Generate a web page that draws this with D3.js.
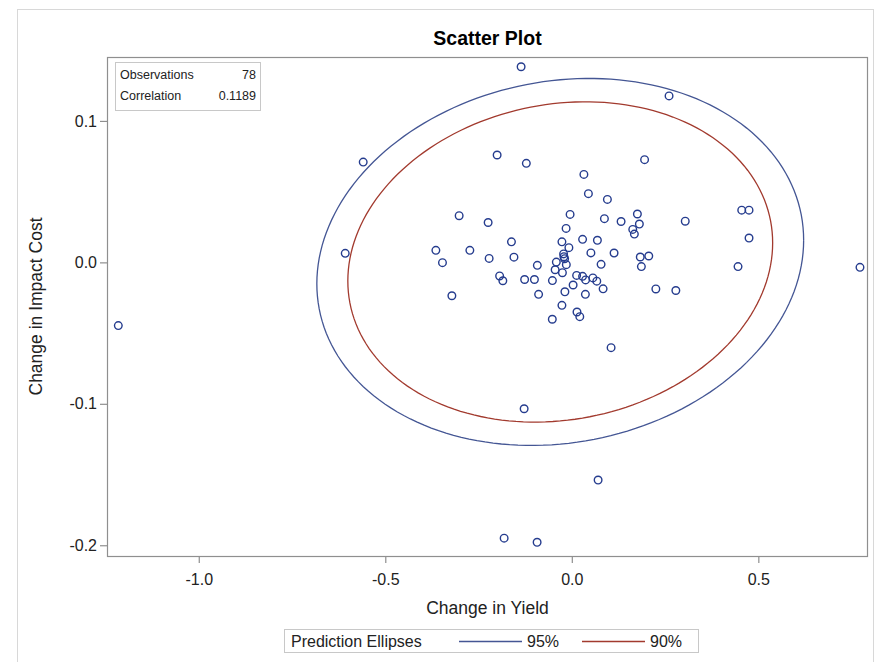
<!DOCTYPE html>
<html>
<head>
<meta charset="utf-8">
<script src="https://cdn.jsdelivr.net/npm/d3@7"></script>
<style>
  html, body { margin: 0; padding: 0; background: #fff; }
  svg { display: block; font-family: "Liberation Sans", Arial, sans-serif; }
</style>
</head>
<body>
<svg id="chart" width="874" height="662"></svg>
<script>
// ---- data ----
const changeInYield = [
  -1.2157, -0.6074, -0.5592, -0.3644, -0.3467, -0.3215, -0.3020, -0.2733, -0.2243, -0.2216,
  -0.2002, -0.1935, -0.1849, -0.1618, -0.1551, -0.1359, -0.1265, -0.1278, -0.1219, -0.1002,
  -0.0924, -0.0890, -0.0930, -0.1814, -0.0523, -0.0520, -0.0447, -0.0415, -0.0265, -0.0252,
  -0.0265, -0.0212, -0.0193, -0.0185, -0.0153, -0.0147, -0.0078, -0.0046, 0.0035, 0.0129,
  0.0139, 0.0214, 0.0289, 0.0289, 0.0324, 0.0370, 0.0364, 0.0445, 0.0512, 0.0565,
  0.0670, 0.0686, 0.0705, 0.0785, 0.0839, 0.0874, 0.0954, 0.1053, 0.1133, 0.1321,
  0.1634, 0.1677, 0.1758, 0.1811, 0.1835, 0.1865, 0.1951, 0.2063, 0.2253, 0.2607,
  0.2789, 0.3041, 0.4456, 0.4555, 0.4751, 0.4751, 0.7725, -0.0220
];
const changeInImpactCost = [
  -0.0447, 0.0064, 0.0709, 0.0085, -0.0002, -0.0236, 0.0330, 0.0085, 0.0282, 0.0028,
  0.0759, -0.0096, -0.0130, 0.0145, 0.0037, 0.1383, -0.0121, -0.1035, 0.0700, -0.0121,
  -0.0021, -0.0226, -0.1979, -0.1950, -0.0402, -0.0129, -0.0052, 0.0002, 0.0145, -0.0073,
  -0.0304, 0.0040, 0.0026, -0.0208, 0.0240, -0.0016, 0.0104, 0.0339, -0.0160, -0.0092,
  -0.0351, -0.0384, 0.0163, -0.0099, 0.0622, -0.0124, -0.0226, 0.0486, 0.0067, -0.0110,
  -0.0133, 0.0156, -0.1539, -0.0014, -0.0187, 0.0309, 0.0445, -0.0603, 0.0066, 0.0289,
  0.0233, 0.0200, 0.0342, 0.0271, 0.0038, -0.0030, 0.0726, 0.0045, -0.0188, 0.1177,
  -0.0199, 0.0291, -0.0030, 0.0369, 0.0369, 0.0172, -0.0035, 0.0060
];
const xTicks = [-1.0, -0.5, 0.0, 0.5];
const yTicks = [-0.2, -0.1, 0.0, 0.1];

// statistics shown in the inset and used for the prediction ellipses
const statLabels = ["Observations", "Correlation"];
const statValues = ["78", "0.1189"];
const ellipseCenter = [-0.031, 0.0003];   // mean of x, mean of y
const ellipseSD = [0.258, 0.0513];        // std dev of x, std dev of y
const correlation = 0.1189;
const ellipseLevels = ["95%", "90%"];
const ellipseRadius = [2.529, 2.207];     // sqrt of scaled F quantile for n = 78

// ---- layout ----
const W = 874, H = 662;
const L = 107, R = 868, T = 57, B = 556;
const frameColor = "#8f8f8f";
const markerColor = "#253c8e";
const ellipseColors = ["#445694", "#a23a2e"];
const textColor = "#222";

const svg = d3.select("#chart");

// outer light border
svg.append("rect").attr("x", 17.5).attr("y", 9.5).attr("width", W - 18).attr("height", H - 9)
  .attr("fill", "none").attr("stroke", "#d8d8d8");

const x = d3.scaleLinear().domain([-1.246, 0.794]).range([L, R]);
const y = d3.scaleLinear().domain([-0.2076, 0.1452]).range([B, T]);

// title
svg.append("text").attr("x", (L + R) / 2).attr("y", 45).attr("text-anchor", "middle")
  .attr("font-size", 19.5).attr("font-weight", "bold").attr("fill", "#000").text("Scatter Plot");

// axes
const fmt = d => d.toFixed(1);
const xAxis = svg.append("g").attr("transform", `translate(0,${B})`)
  .call(d3.axisBottom(x).tickValues(xTicks).tickFormat(fmt).tickSizeOuter(0).tickSize(7).tickPadding(11));
const yAxis = svg.append("g").attr("transform", `translate(${L},0)`)
  .call(d3.axisLeft(y).tickValues(yTicks).tickFormat(fmt).tickSizeOuter(0).tickSize(7).tickPadding(3));
[xAxis, yAxis].forEach(g => {
  g.select(".domain").remove();
  g.selectAll(".tick line").attr("stroke", frameColor).attr("stroke-width", 1.2);
  g.selectAll(".tick text").attr("fill", textColor).attr("font-size", 16)
    .attr("font-family", "'Liberation Sans', Arial, sans-serif");
});

// frame
svg.append("rect").attr("x", L + 0.5).attr("y", T + 0.5).attr("width", R - L - 1).attr("height", B - T)
  .attr("fill", "none").attr("stroke", frameColor).attr("stroke-width", 1.2);

// axis labels
svg.append("text").attr("x", (L + R) / 2).attr("y", 614).attr("text-anchor", "middle")
  .attr("font-size", 17.5).attr("fill", textColor).text("Change in Yield");
svg.append("text").attr("transform", `translate(42,${(T + B) / 2}) rotate(-90)`)
  .attr("text-anchor", "middle").attr("font-size", 17.5).attr("fill", textColor).text("Change in Impact Cost");

// prediction ellipses
const ts = d3.range(0, 361, 2).map(a => a * Math.PI / 180);
const line = d3.line().x(d => x(d[0])).y(d => y(d[1]));
ellipseLevels.forEach((lvl, i) => {
  const k = ellipseRadius[i];
  const pts = ts.map(t => [
    ellipseCenter[0] + k * ellipseSD[0] * Math.cos(t),
    ellipseCenter[1] + k * ellipseSD[1] * (correlation * Math.cos(t) + Math.sqrt(1 - correlation * correlation) * Math.sin(t))
  ]);
  svg.append("path").attr("d", line(pts)).attr("fill", "none")
    .attr("stroke", ellipseColors[i]).attr("stroke-width", 1.3);
});

// points
const data = changeInYield.map((v, i) => [v, changeInImpactCost[i]]);
svg.append("g").selectAll("circle").data(data).join("circle")
  .attr("cx", d => x(d[0])).attr("cy", d => y(d[1])).attr("r", 3.8)
  .attr("fill", "none").attr("stroke", markerColor).attr("stroke-width", 1.4);

// inset statistics box
const inset = svg.append("g");
inset.append("rect").attr("x", 115.5).attr("y", 62.5).attr("width", 145).attr("height", 48)
  .attr("fill", "#fff").attr("stroke", "#c8c8c8");
statLabels.forEach((s, i) => {
  inset.append("text").attr("x", 120).attr("y", 79 + i * 21).attr("font-size", 12.5).attr("fill", textColor).text(s);
  inset.append("text").attr("x", 256).attr("y", 79 + i * 21).attr("text-anchor", "end")
    .attr("font-size", 12.5).attr("fill", textColor).text(statValues[i]);
});

// bottom legend
const lg = svg.append("g");
lg.append("rect").attr("x", 284.5).attr("y", 629.5).attr("width", 414).attr("height", 23)
  .attr("fill", "#fff").attr("stroke", "#c8c8c8");
lg.append("text").attr("x", 291).attr("y", 647).attr("font-size", 16).attr("fill", textColor).text("Prediction Ellipses");
const legX = [459, 582];
ellipseLevels.forEach((lvl, i) => {
  lg.append("line").attr("x1", legX[i]).attr("x2", legX[i] + 63).attr("y1", 641.5).attr("y2", 641.5)
    .attr("stroke", ellipseColors[i]).attr("stroke-width", 1.3);
  lg.append("text").attr("x", legX[i] + 68).attr("y", 647).attr("font-size", 16).attr("fill", textColor).text(lvl);
});
</script>
</body>
</html>
